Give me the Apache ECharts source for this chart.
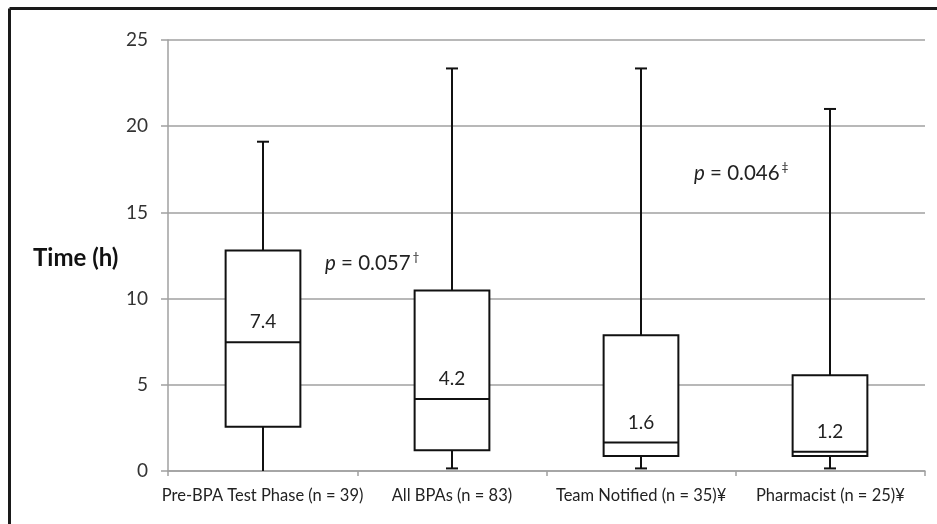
<!DOCTYPE html>
<html>
<head>
<meta charset="utf-8">
<script src="https://cdn.jsdelivr.net/npm/echarts@6/dist/echarts.min.js"></script>
<style>
html,body{margin:0;padding:0;background:#fff;}
#c{width:937px;height:524px;}
</style>
</head>
<body>
<div id="c"></div>
<script>
const categories = ['Pre-BPA Test Phase (n = 39)', 'All BPAs (n = 83)', 'Team Notified (n = 35)¥', 'Pharmacist (n = 25)¥'];
const whiskerLow = [0, 0.15, 0.15, 0.15];
const q1 = [2.57, 1.2, 0.87, 0.87];
const median = [7.47, 4.17, 1.65, 1.12];
const q3 = [12.79, 10.47, 7.87, 5.55];
const whiskerHigh = [19.1, 23.35, 23.35, 21.0];
const medianLabels = ['7.4', '4.2', '1.6', '1.2'];
const yMin = 0, yMax = 25, yInterval = 5;
const pNotes = [
  { text: '0.057', mark: '†', x: 325, y: 263 },
  { text: '0.046', mark: '‡', x: 694, y: 173 }
];

const FONT = 'Lato, "Open Sans", sans-serif';
const chart = echarts.init(document.getElementById('c'), null, { renderer: 'canvas' });

const data = categories.map((c, i) => [i, whiskerLow[i], q1[i], median[i], q3[i], whiskerHigh[i]]);

function renderItem(params, api) {
  const i = api.value(0);
  const lo = api.value(1), a = api.value(2), m = api.value(3), b = api.value(4), hi = api.value(5);
  const bw = api.size([1, 0])[0] * 0.395;
  const cap = 12;
  const pLo = api.coord([i, lo]);
  const pA = api.coord([i, a]);
  const pM = api.coord([i, m]);
  const pB = api.coord([i, b]);
  const pHi = api.coord([i, hi]);
  const cx = Math.round(pA[0]);
  const ls = { stroke: '#111', lineWidth: 2 };
  const children = [
    { type: 'line', shape: { x1: cx, y1: pHi[1], x2: cx, y2: pB[1] }, style: ls },
    { type: 'line', shape: { x1: cx - cap / 2, y1: pHi[1], x2: cx + cap / 2, y2: pHi[1] }, style: ls },
    { type: 'line', shape: { x1: cx, y1: pA[1], x2: cx, y2: pLo[1] }, style: ls },
    { type: 'rect', shape: { x: cx - bw / 2, y: pB[1], width: bw, height: pA[1] - pB[1] }, style: { fill: '#fff', stroke: '#111', lineWidth: 2 } },
    { type: 'line', shape: { x1: cx - bw / 2, y1: pM[1], x2: cx + bw / 2, y2: pM[1] }, style: ls },
    { type: 'text', x: cx, y: pM[1] - 20, style: { text: medianLabels[params.dataIndex], fontFamily: FONT, fontSize: 19, fill: '#222', align: 'center', verticalAlign: 'middle' } }
  ];
  if (lo > 0) {
    children.push({ type: 'line', shape: { x1: cx - cap / 2, y1: pLo[1], x2: cx + cap / 2, y2: pLo[1] }, style: ls });
  }
  return { type: 'group', children: children };
}

const graphics = [
  { type: 'line', shape: { x1: 9.5, y1: 8.5, x2: 937, y2: 8.5 }, style: { stroke: '#1a1a1a', lineWidth: 3 }, z: 100 },
  { type: 'line', shape: { x1: 9.5, y1: 8.5, x2: 9.5, y2: 524 }, style: { stroke: '#1a1a1a', lineWidth: 3 }, z: 100 },
  { type: 'text', x: 33, y: 258, style: { text: 'Time (h)', fontFamily: FONT, fontSize: 24, fontWeight: 'bold', fill: '#111', verticalAlign: 'middle' } }
];
pNotes.forEach(n => {
  graphics.push({
    type: 'text', x: n.x, y: n.y,
    style: {
      text: '{i|p} = ' + n.text + '{s|' + n.mark + '}',
      fontFamily: FONT, fontSize: 20.5, fill: '#222', verticalAlign: 'middle',
      rich: {
        i: { fontStyle: 'italic', fontFamily: FONT, fontSize: 20.5, fill: '#222' },
        s: { fontFamily: FONT, fontSize: 12, fill: '#222', verticalAlign: 'top', padding: [0, 0, 12, 2] }
      }
    }
  });
});

chart.setOption({
  animation: false,
  backgroundColor: '#fff',
  grid: { left: 168, right: 12, top: 40, bottom: 53 },
  xAxis: {
    type: 'category',
    data: categories,
    boundaryGap: true,
    axisLine: { lineStyle: { color: '#a0a0a0', width: 1.5 } },
    axisTick: { show: true, length: 5, lineStyle: { color: '#a0a0a0', width: 1.5 } },
    axisLabel: { color: '#222', fontFamily: FONT, fontSize: 16.5, margin: 16, interval: 0 },
    splitLine: { show: false }
  },
  yAxis: {
    type: 'value',
    min: yMin, max: yMax, interval: yInterval,
    axisLine: { show: true, lineStyle: { color: '#a0a0a0', width: 1.5 } },
    axisTick: { show: true, length: 7, lineStyle: { color: '#a0a0a0', width: 1.5 } },
    axisLabel: { color: '#333', fontFamily: FONT, fontSize: 19, margin: 20 },
    splitLine: { show: true, lineStyle: { color: '#a0a0a0', width: 1.5 } }
  },
  series: [{
    type: 'custom',
    renderItem: renderItem,
    encode: { x: 0, y: [1, 2, 3, 4, 5] },
    data: data,
    clip: false,
    z: 5
  }],
  graphic: graphics
});
</script>
</body>
</html>
